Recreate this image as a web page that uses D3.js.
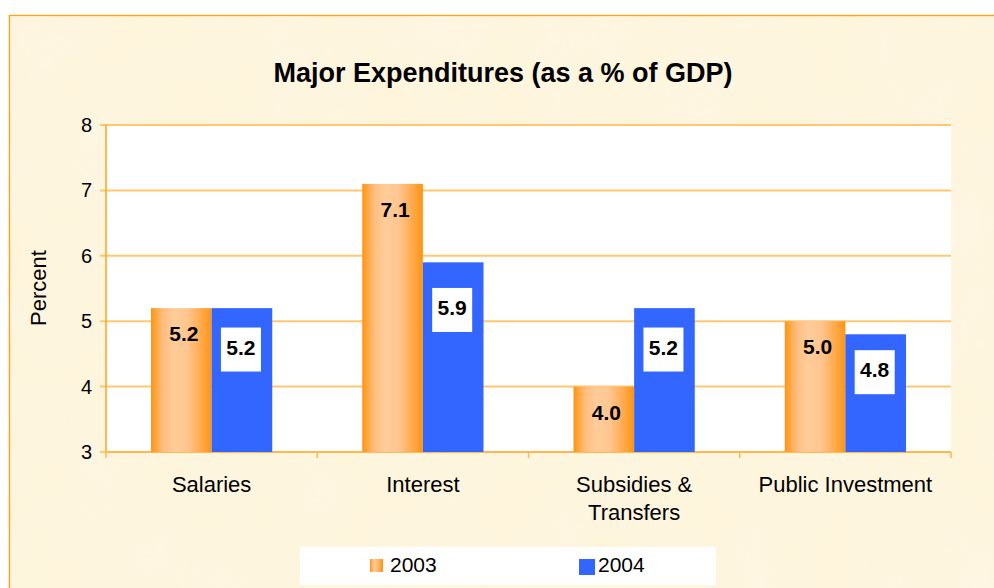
<!DOCTYPE html>
<html><head><meta charset="utf-8">
<script src="https://cdn.jsdelivr.net/npm/d3@7"></script>
<style>html,body{margin:0;padding:0;background:#fff;}svg{display:block;font-family:Arial,"Liberation Sans",sans-serif;}</style>
</head><body>
<script>
const categories = ["Salaries", "Interest", "Subsidies & Transfers", "Public Investment"];
const categoryLines = [["Salaries"], ["Interest"], ["Subsidies &", "Transfers"], ["Public Investment"]];
const seriesNames = ["2003", "2004"];
const values2003 = [5.2, 7.1, 4.0, 5.0];
const values2004 = [5.2, 5.9, 5.2, 4.8];
const yTicks = [3, 4, 5, 6, 7, 8];

const W = 994, H = 588;
const svg = d3.select("body").append("svg").attr("width", W).attr("height", H);
const defs = svg.append("defs");

// parchment texture
const f = defs.append("filter").attr("id", "paper").attr("x", 0).attr("y", 0).attr("width", "100%").attr("height", "100%");
f.append("feTurbulence").attr("type", "fractalNoise").attr("baseFrequency", "0.015").attr("numOctaves", 3).attr("seed", 4).attr("result", "n");
f.append("feColorMatrix").attr("in", "n").attr("type", "matrix")
  .attr("values", "0 0 0 0 0.99  0 0 0 0 0.92  0 0 0 0 0.78  0 0 0 -1.2 0.85").attr("result", "c");
f.append("feComposite").attr("in", "c").attr("in2", "SourceGraphic").attr("operator", "in");

const og = defs.append("linearGradient").attr("id", "orangeGrad").attr("x1", "0%").attr("x2", "100%").attr("y1", "0%").attr("y2", "0%");
[[0, "#FF9412"], [0.2, "#FFBE80"], [0.38, "#FFCC99"], [0.6, "#FFC690"], [0.8, "#FFAD55"], [1, "#FF9412"]]
  .forEach(([o, c]) => og.append("stop").attr("offset", o).attr("stop-color", c));
const lg = defs.append("linearGradient").attr("id", "legGrad").attr("x1", "0%").attr("x2", "100%");
[[0, "#FF9412"], [0.3, "#FFCC99"], [0.6, "#FFB870"], [1, "#FF9412"]]
  .forEach(([o, c]) => lg.append("stop").attr("offset", o).attr("stop-color", c));

// frame background
svg.append("rect").attr("x", 9.5).attr("y", 15.5).attr("width", W).attr("height", H)
  .attr("fill", "#FEF5DC").attr("stroke", "#FFA31A").attr("stroke-width", 1.5);
svg.append("rect").attr("x", 10).attr("y", 16).attr("width", W).attr("height", H)
  .attr("fill", "#FEF5DC").attr("filter", "url(#paper)");

// title
svg.append("text").attr("x", 503).attr("y", 82).attr("text-anchor", "middle")
  .attr("font-size", 27).attr("font-weight", "bold").text("Major Expenditures (as a % of GDP)");

const x = d3.scaleBand().domain(categories).range([106, 951]);
const xs = d3.scaleBand().domain(seriesNames).range([x.bandwidth() * 0.213, x.bandwidth() * 0.787]);
const y = d3.scaleLinear().domain([3, 8]).range([452, 125]);

// plot area
svg.append("rect").attr("x", 106).attr("y", 125).attr("width", 845).attr("height", 327).attr("fill", "#fff");
svg.append("g").selectAll("line").data(yTicks).join("line")
  .attr("x1", 100).attr("x2", 951).attr("y1", d => y(d)).attr("y2", d => y(d))
  .attr("stroke", "#FFC870").attr("stroke-width", 2);
svg.append("line").attr("x1", 106).attr("x2", 106).attr("y1", 125).attr("y2", 452).attr("stroke", "#FFA31A").attr("stroke-width", 1.5);
svg.append("line").attr("x1", 106).attr("x2", 951).attr("y1", 452).attr("y2", 452).attr("stroke", "#FFB84D").attr("stroke-width", 2);
svg.append("g").selectAll("line").data(d3.range(5)).join("line")
  .attr("x1", i => 106 + i * x.bandwidth()).attr("x2", i => 106 + i * x.bandwidth())
  .attr("y1", 452).attr("y2", 458).attr("stroke", "#FFB84D").attr("stroke-width", 1.5);

// y ticks
svg.append("g").selectAll("text").data(yTicks).join("text")
  .attr("x", 92).attr("y", d => y(d) + 7).attr("text-anchor", "end").attr("font-size", 20).text(d => d);
svg.append("text").attr("transform", "translate(46,288) rotate(-90)").attr("text-anchor", "middle")
  .attr("font-size", 22).text("Percent");

// bars
const data = categories.flatMap((c, i) => [
  { c, s: "2003", v: values2003[i] },
  { c, s: "2004", v: values2004[i] }
]);
const bars = svg.append("g");
bars.selectAll("rect").data(data).join("rect")
  .attr("x", d => x(d.c) + xs(d.s)).attr("width", xs.bandwidth())
  .attr("y", d => y(d.v)).attr("height", d => y(3) - y(d.v))
  .attr("fill", d => d.s === "2003" ? "url(#orangeGrad)" : "#3366FF");

// labels
const lab = svg.append("g");
data.forEach(d => {
  const cx = x(d.c) + xs(d.s) + xs.bandwidth() / 2;
  const h = y(3) - y(d.v);
  if (d.s === "2003") {
    lab.append("text").attr("x", cx + 2.5).attr("y", y(d.v) + 33).attr("text-anchor", "middle")
      .attr("font-size", 21).attr("font-weight", "bold").text(d.v.toFixed(1));
  } else {
    const top = y(d.v) + 0.135 * h;
    lab.append("rect").attr("x", cx - 21).attr("y", top).attr("width", 40).attr("height", 44).attr("fill", "#fff");
    lab.append("text").attr("x", cx - 1).attr("y", top + 27).attr("text-anchor", "middle")
      .attr("font-size", 21).attr("font-weight", "bold").text(d.v.toFixed(1));
  }
});

// x labels
categories.forEach((c, i) => {
  const t = svg.append("text").attr("text-anchor", "middle").attr("font-size", 22);
  categoryLines[i].forEach((ln, j) => {
    t.append("tspan").attr("x", x(c) + x.bandwidth() / 2).attr("y", 492 + j * 28).text(ln);
  });
});

// legend
svg.append("rect").attr("x", 300).attr("y", 547).attr("width", 416).attr("height", 38).attr("fill", "#fff");
svg.append("rect").attr("x", 370).attr("y", 559).attr("width", 13).attr("height", 13).attr("fill", "url(#legGrad)");
svg.append("text").attr("x", 390).attr("y", 572).attr("font-size", 21).text(seriesNames[0]);
svg.append("rect").attr("x", 579).attr("y", 559).attr("width", 16).attr("height", 16).attr("fill", "#3366FF");
svg.append("text").attr("x", 598).attr("y", 572).attr("font-size", 21).text(seriesNames[1]);
</script>
</body></html>
